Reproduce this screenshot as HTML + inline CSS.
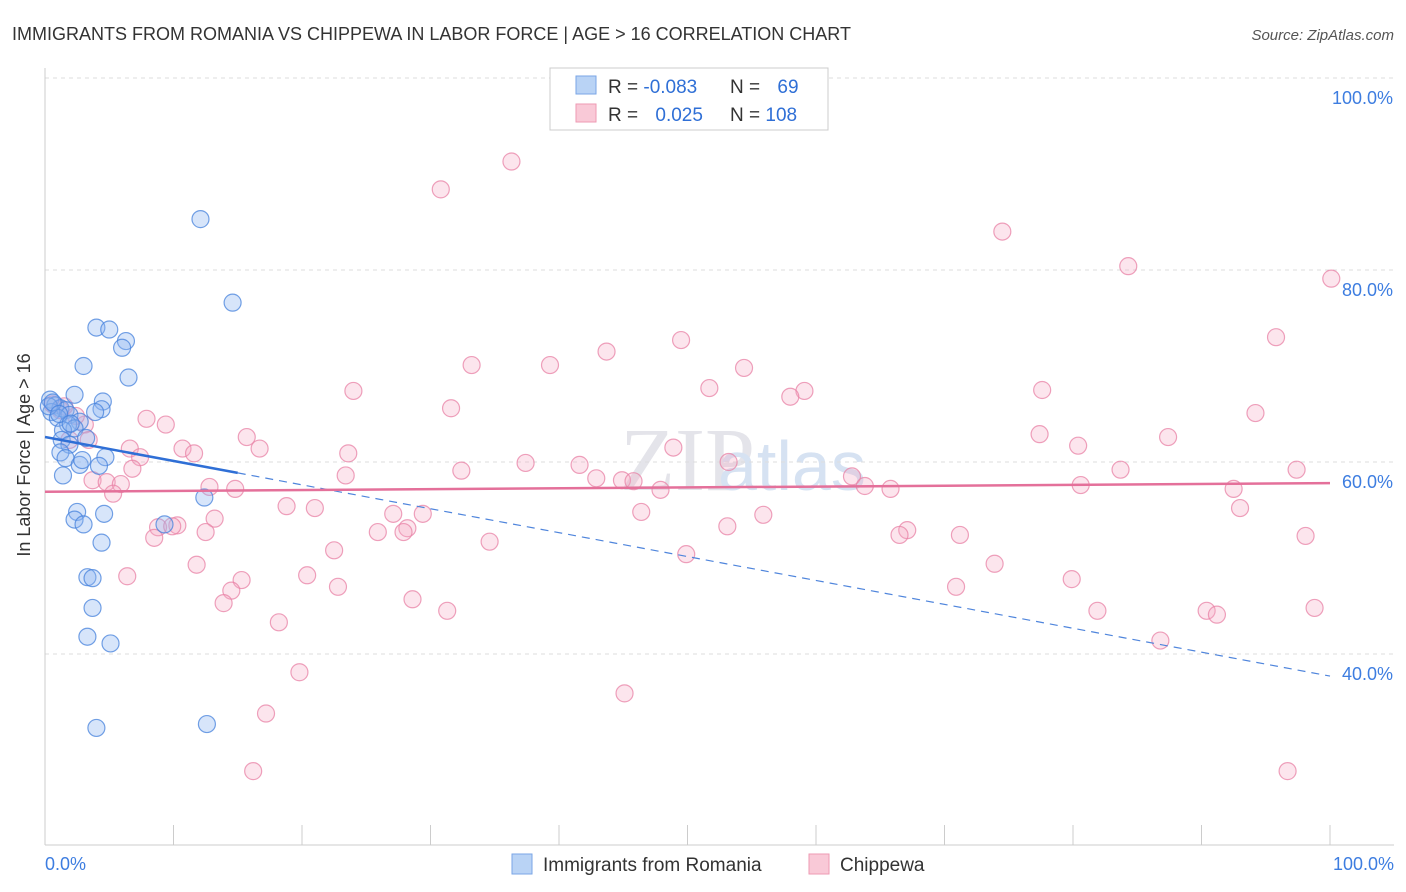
<!DOCTYPE html>
<html><head><meta charset="utf-8"><style>
body{margin:0;background:#fff;font-family:"Liberation Sans",sans-serif}
svg{display:block}
</style></head><body>
<svg id="c" width="1406" height="892" font-family="Liberation Sans, sans-serif">
<text x="12" y="40" font-size="18" fill="#333">IMMIGRANTS FROM ROMANIA VS CHIPPEWA IN LABOR FORCE | AGE &gt; 16 CORRELATION CHART</text>
<text x="1394" y="40" font-size="15" fill="#555" text-anchor="end" font-style="italic">Source: ZipAtlas.com</text>
<text x="620" y="490" font-size="90" fill="#e4e4ea" font-family="Liberation Serif, serif">ZIP</text>
<text x="718" y="490" font-size="70" fill="#d6e2f2">atlas</text>
<g id="grid"></g>
<g id="axes"></g>
<g id="pts"></g>
<g id="trend"></g>
<g>
<rect x="550" y="68" width="278" height="62" fill="#fff" stroke="#ccc"/>
<rect x="576" y="76" width="20" height="18" fill="#b9d3f5" stroke="#7aa6e6"/>
<rect x="576" y="104" width="20" height="18" fill="#f9c9d7" stroke="#ee9ab3"/>
<text x="608" y="93" font-size="19" fill="#333">R = <tspan fill="#2f6fd6">-0.083</tspan></text>
<text x="730" y="93" font-size="19" fill="#333">N = <tspan fill="#2f6fd6" dx="12">69</tspan></text>
<text x="608" y="121" font-size="19" fill="#333">R = <tspan fill="#2f6fd6" dx="12">0.025</tspan></text>
<text x="730" y="121" font-size="19" fill="#333">N = <tspan fill="#2f6fd6">108</tspan></text>
</g>
<g>
<rect x="512" y="854" width="20" height="20" fill="#b9d3f5" stroke="#7aa6e6"/>
<text x="543" y="871" font-size="19" fill="#333">Immigrants from Romania</text>
<rect x="809" y="854" width="20" height="20" fill="#f9c9d7" stroke="#ee9ab3"/>
<text x="840" y="871" font-size="19" fill="#333">Chippewa</text>
</g>
<text x="30" y="455" font-size="18" fill="#333" transform="rotate(-90 30 455)" text-anchor="middle">In Labor Force | Age &gt; 16</text>
</svg>
<script>
const yTicks=[40,60,80,100];
const yTickLabels=["40.0%","60.0%","80.0%","100.0%"];
const xTickLabels=["0.0%","100.0%"];
const blueX=[12.1,14.6,4.0,5.0,6.3,6.0,3.0,6.5,2.3,4.5,4.4,3.9,0.4,0.8,1.2,1.6,0.5,1.9,1.0,2.7,1.8,2.3,1.4,3.2,1.3,1.9,1.2,1.6,4.7,2.7,4.2,1.4,12.4,2.5,4.6,2.3,3.0,9.3,4.4,3.3,3.7,3.7,3.3,5.1,12.6,4.0,0.3,0.6,1.1,2.0,2.9];
const blueY=[85.3,76.6,74.0,73.8,72.6,71.9,70.0,68.8,67.0,66.3,65.5,65.2,66.5,65.9,65.6,65.4,65.2,64.9,64.6,64.2,63.9,63.5,63.3,62.5,62.3,61.8,61.0,60.4,60.5,59.7,59.6,58.6,56.3,54.8,54.6,54.0,53.5,53.5,51.6,48.0,47.9,44.8,41.8,41.1,32.7,32.3,65.8,66.2,65.0,64.0,60.2];
const pinkX=[36.3,30.8,74.5,84.3,100.1,95.8,43.7,49.5,33.2,39.3,54.4,51.7,24.0,59.1,58.0,77.6,31.6,94.2,7.9,9.4,77.4,87.4,15.7,48.9,80.4,10.7,11.6,16.7,23.6,6.6,7.4,37.4,41.6,53.2,6.8,32.4,83.7,97.4,23.4,42.9,44.9,45.8,62.8,3.7,4.8,5.9,12.8,14.8,5.3,63.8,65.8,47.9,80.6,92.5,18.8,21.0,27.1,29.4,46.4,55.9,93.0,13.2,10.3,8.8,9.9,53.1,28.2,25.9,27.9,12.5,8.5,67.1,66.5,71.2,98.1,34.6,22.5,49.9,11.8,73.9,20.4,6.4,15.3,79.9,22.8,14.5,70.9,28.6,13.9,31.3,81.9,90.4,91.2,98.8,18.2,86.8,19.8,45.1,17.2,16.2,96.7,1.2,3.1,1.9,3.4,0.6,2.4,1.5];
const pinkY=[91.3,88.4,84.0,80.4,79.1,73.0,71.5,72.7,70.1,70.1,69.8,67.7,67.4,67.4,66.8,67.5,65.6,65.1,64.5,63.9,62.9,62.6,62.6,61.5,61.7,61.4,60.9,61.4,60.9,61.4,60.5,59.9,59.7,60.0,59.3,59.1,59.2,59.2,58.6,58.3,58.1,58.0,58.5,58.1,57.9,57.7,57.4,57.2,56.7,57.5,57.2,57.1,57.6,57.2,55.4,55.2,54.6,54.6,54.8,54.5,55.2,54.1,53.4,53.2,53.3,53.3,53.1,52.7,52.7,52.7,52.1,52.9,52.4,52.4,52.3,51.7,50.8,50.4,49.3,49.4,48.2,48.1,47.7,47.8,47.0,46.6,47.0,45.7,45.3,44.5,44.5,44.5,44.1,44.8,43.3,41.4,38.1,35.9,33.8,27.8,27.8,65.4,63.9,62.3,62.3,66.0,64.8,65.8];
const blueTrend=[62.6,37.7];
const pinkTrend=[56.9,57.8];
const NS="http://www.w3.org/2000/svg";
const X=v=>45+v*12.85, Y=v=>654-(v-40)*9.6;
function mk(t,a,p){const e=document.createElementNS(NS,t);for(const k in a)e.setAttribute(k,a[k]);p.appendChild(e);return e;}
const grid=document.getElementById('grid'),axes=document.getElementById('axes'),pts=document.getElementById('pts'),tr=document.getElementById('trend');
yTicks.forEach((v,i)=>{
 const l=mk('line',{x1:45,x2:1394,y1:Y(v),y2:Y(v),stroke:'#ddd','stroke-dasharray':'4,4'},grid);
 
 
 const t=mk('text',{x:1393,y:Y(v)+26,'font-size':18,fill:'#3d7de0','text-anchor':'end'},axes);
 t.textContent=yTickLabels[i];
 
 
});
let a=mk('line',{x1:45,x2:45,y1:68,y2:845,stroke:'#ccc'},axes);


a=mk('line',{x1:45,x2:1394,y1:845,y2:845,stroke:'#ccc'},axes);


for(let i=0;i<=10;i++){const t=mk('line',{x1:X(i*10),x2:X(i*10),y1:825,y2:845,stroke:'#ccc'},axes);
 
 }
[[0,'start',45],[1,'end',1394]].forEach(([i,anc,x])=>{const t=mk('text',{x:x,y:870,'font-size':18,fill:'#3d7de0','text-anchor':anc},axes);t.textContent=xTickLabels[i];
 
 });
pinkX.forEach((x,i)=>{const c=mk('circle',{cx:X(x),cy:Y(pinkY[i]),r:8.5,fill:'rgba(246,170,195,0.3)',stroke:'rgba(232,130,165,0.75)','stroke-width':1.2},pts);
 
 });
blueX.forEach((x,i)=>{const c=mk('circle',{cx:X(x),cy:Y(blueY[i]),r:8.5,fill:'rgba(140,180,240,0.35)',stroke:'rgba(70,130,220,0.75)','stroke-width':1.2},pts);
 
 });
const bAt=x=>blueTrend[0]+(blueTrend[1]-blueTrend[0])*x/100;
let l=mk('line',{x1:X(0),y1:Y(bAt(0)),x2:X(15),y2:Y(bAt(15)),stroke:'#2f6fd6','stroke-width':2.5},tr);


l=mk('line',{x1:X(15),y1:Y(bAt(15)),x2:X(100),y2:Y(bAt(100)),stroke:'#4f85dc','stroke-width':1.2,'stroke-dasharray':'8,6'},tr);


l=mk('line',{x1:X(0),y1:Y(pinkTrend[0]),x2:X(100),y2:Y(pinkTrend[1]),stroke:'#e4709a','stroke-width':2.5},tr);


</script>
</body></html>
